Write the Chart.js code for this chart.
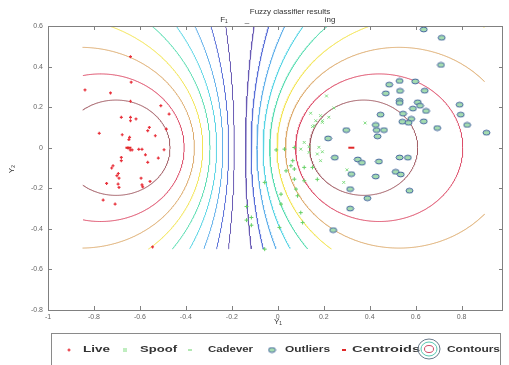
<!DOCTYPE html>
<html>
<head>
<meta charset="utf-8">
<script src="https://cdn.jsdelivr.net/npm/chart.js@4.4.1/dist/chart.umd.min.js"></script>
<style>
  html, body { margin: 0; padding: 0; background: #fff; overflow: hidden; }
</style>
</head>
<body>
<canvas id="fuzzyChart" width="509" height="365"></canvas>
<script>
// Live samples (red)
const liveX = [-0.839, -0.728, -0.638, -0.641, -0.509, -0.473, -0.681, -0.641, -0.641, -0.617,
  -0.559, -0.566, -0.777, -0.677, -0.645, -0.648, -0.533, -0.485, -0.652, -0.642,
  -0.634, -0.605, -0.591, -0.495, -0.576, -0.520, -0.681, -0.681, -0.566, -0.717,
  -0.723, -0.694, -0.700, -0.691, -0.595, -0.556, -0.745, -0.695, -0.591, -0.691,
  -0.588, -0.760, -0.708, -0.545, -0.641];
const liveY = [0.285, 0.270, 0.323, 0.229, 0.207, 0.166, 0.150, 0.150, 0.133, 0.142,
  0.100, 0.084, 0.071, 0.064, 0.051, 0.040, 0.059, 0.092, -0.002, -0.011,
  -0.011, -0.008, -0.008, -0.010, -0.035, -0.051, -0.048, -0.064, -0.072, -0.089,
  -0.100, -0.127, -0.138, -0.150, -0.150, -0.166, -0.176, -0.179, -0.183, -0.196,
  -0.193, -0.258, -0.278, -0.489, 0.449];

// Spoof and cadaver samples (green)
const spoofX = [0.212, 0.244, 0.143, 0.186, 0.222, 0.165, 0.194, 0.151, 0.380, 0.158,
  0.194, 0.115, 0.136, 0.179, 0.100, 0.194, 0.172, 0.186, 0.136, 0.301, 0.287];
const spoofY = [0.255, 0.196, 0.170, 0.158, 0.150, 0.133, 0.133, 0.104, 0.122, 0.109,
  0.125, 0.026, 0.005, 0.002, -0.007, -0.020, -0.031, -0.064, -0.023, -0.109, -0.171];
const cadaverX = [-0.007, 0.029, 0.072, 0.065, 0.036, 0.072, 0.115, 0.151, 0.072, 0.115,
  -0.057, 0.014, 0.079, 0.086, 0.014, 0.100, 0.108, 0.007, -0.057, -0.115,
  -0.136, -0.136, -0.115, 0.172, 0.057];
const cadaverY = [-0.011, -0.007, 0.001, -0.064, -0.114, -0.105, -0.097, -0.097, -0.155, -0.163,
  -0.171, -0.229, -0.204, -0.237, -0.278, -0.320, -0.369, -0.393, -0.500, -0.344,
  -0.290, -0.357, -0.382, -0.156, -0.089];

// Outliers (circled)
const outX = [0.635, 0.713, 0.710, 0.485, 0.530, 0.598, 0.470, 0.532, 0.639, 0.530,
  0.530, 0.609, 0.619, 0.588, 0.645, 0.791, 0.545, 0.447, 0.796, 0.581,
  0.542, 0.569, 0.635, 0.824, 0.426, 0.694, 0.298, 0.430, 0.462, 0.908,
  0.434, 0.219, 0.248, 0.348, 0.366, 0.440, 0.530, 0.566, 0.320, 0.513,
  0.535, 0.426, 0.315, 0.573, 0.390, 0.315, 0.241];
const outY = [0.583, 0.542, 0.408, 0.311, 0.329, 0.327, 0.268, 0.280, 0.281, 0.232,
  0.221, 0.224, 0.207, 0.193, 0.181, 0.212, 0.168, 0.163, 0.163, 0.142,
  0.128, 0.123, 0.130, 0.112, 0.112, 0.097, 0.087, 0.087, 0.087, 0.074,
  0.056, 0.046, -0.049, -0.058, -0.074, -0.068, -0.048, -0.049, -0.130, -0.119,
  -0.132, -0.142, -0.204, -0.212, -0.249, -0.300, -0.406];

// Cluster centroids, membership contour levels and the grid they were drawn on
const centroidX = [-0.65, 0.32];
const centroidY = [0.0, 0.0];
const levels = [0.55, 0.6, 0.65, 0.7, 0.75, 0.8, 0.85, 0.9, 0.95];
const levelColors = ['#6a5cb4', '#5a70d8', '#62b0ea', '#58d4e4', '#58dcb0',
  '#f2e454', '#dcaa6c', '#dc4a66', '#a05a62'];
const gridX = [-0.85, 0.9];
const gridY = [-0.5, 0.6];

const xTicks = [-1, -0.8, -0.6, -0.4, -0.2, 0, 0.2, 0.4, 0.6, 0.8];
const yTicks = [-0.8, -0.6, -0.4, -0.2, 0, 0.2, 0.4, 0.6];

const zip = (xs, ys) => xs.map((x, i) => ({ x: x, y: ys[i] }));

// contour of membership u_i = level (two clusters, m = 2) is an Apollonius circle
function contourArcs(i, level) {
  const j = 1 - i;
  const k2 = 1 / level - 1, k = Math.sqrt(k2);
  const dx = centroidX[j] - centroidX[i], dy = centroidY[j] - centroidY[i];
  const dist = Math.hypot(dx, dy);
  const cx = (centroidX[i] - k2 * centroidX[j]) / (1 - k2);
  const cy = (centroidY[i] - k2 * centroidY[j]) / (1 - k2);
  const r = k * dist / (1 - k2);
  const start = Math.atan2(-dy, -dx);
  const n = Math.ceil(2 * Math.PI * r / 0.003);
  const arcs = [];
  let cur = null;
  for (let s = 0; s <= n; s++) {
    const t = start + 2 * Math.PI * s / n;
    const px = cx + r * Math.cos(t), py = cy + r * Math.sin(t);
    const inside = px >= gridX[0] && px <= gridX[1] && py >= gridY[0] && py <= gridY[1];
    if (inside) {
      if (!cur) { cur = []; arcs.push(cur); }
      cur.push({ x: px, y: py });
    } else {
      cur = null;
    }
  }
  return arcs;
}

// ellipse marker used for outliers
const outlierMark = document.createElement('canvas');
outlierMark.width = 9;
outlierMark.height = 7;
(function () {
  const c = outlierMark.getContext('2d');
  c.beginPath();
  c.ellipse(4.5, 3.5, 3.5, 2.4, 0, 0, 2 * Math.PI);
  c.fillStyle = '#a4dcb0';
  c.fill();
  c.lineWidth = 1;
  c.strokeStyle = '#44649e';
  c.stroke();
})();

const datasets = [
  { label: 'Centroids', data: zip(centroidX, centroidY), pointStyle: 'line', pointRadius: 3,
    borderColor: '#e02828', borderWidth: 2 },
  { label: 'Live', data: zip(liveX, liveY), pointStyle: 'cross', pointRadius: 1.5,
    borderColor: '#e8303a', borderWidth: 1.2 },
  { label: 'Spoof', data: zip(spoofX, spoofY), pointStyle: 'crossRot', pointRadius: 2,
    borderColor: '#80dc80', borderWidth: 1 },
  { label: 'Cadever', data: zip(cadaverX, cadaverY), pointStyle: 'cross', pointRadius: 2,
    borderColor: '#66d066', borderWidth: 1 },
  { label: 'Outliers', data: zip(outX, outY), pointStyle: outlierMark, order: 1 }
];

levels.forEach((lv, li) => {
  [0, 1].forEach(ci => {
    contourArcs(ci, lv).forEach(arc => {
      datasets.push({
        label: 'Contours', data: arc, showLine: true, pointRadius: 0,
        borderColor: levelColors[li], borderWidth: 1, order: 10
      });
    });
  });
});

const legendItems = [
  { label: 'Live', mark: 69, x: 83, w: 27 },
  { label: 'Spoof', mark: 125, x: 140, w: 37 },
  { label: 'Cadever', mark: 190, x: 208, w: 45 },
  { label: 'Outliers', mark: 272, x: 285, w: 45 },
  { label: 'Centroids', mark: 344, x: 352, w: 68 },
  { label: 'Contours', mark: 429, x: 447, w: 53 }
];

function line(ctx, x1, y1, x2, y2) {
  ctx.beginPath();
  ctx.moveTo(x1, y1);
  ctx.lineTo(x2, y2);
  ctx.stroke();
}

const decorations = {
  id: 'decorations',
  afterDraw(chart) {
    const { ctx, chartArea: a, scales: { x, y } } = chart;
    ctx.save();
    ctx.strokeStyle = '#808080';
    ctx.lineWidth = 1;
    ctx.strokeRect(a.left + 0.5, a.top + 0.5, a.right - a.left - 1, a.bottom - a.top);
    xTicks.forEach(v => {
      const px = Math.round(x.getPixelForValue(v)) + 0.5;
      line(ctx, px, a.bottom, px, a.bottom - 4);
      line(ctx, px, a.top, px, a.top + 4);
    });
    yTicks.forEach(v => {
      const py = Math.round(y.getPixelForValue(v)) + 0.5;
      line(ctx, a.left, py, a.left + 4, py);
      line(ctx, a.right, py, a.right - 4, py);
    });

    // title
    ctx.fillStyle = '#333';
    ctx.font = '8px "Liberation Sans", Arial, sans-serif';
    ctx.textAlign = 'center';
    ctx.textBaseline = 'middle';
    ctx.fillText('Fuzzy classifier results', 290, 12);
    ctx.fillText('F\u2081', 224, 20);
    ctx.fillText('_', 247, 20);
    ctx.fillText('ing', 330, 20);

    // axis labels
    ctx.fillText('Y\u2081', 278, 322);
    ctx.save();
    ctx.translate(12, 169);
    ctx.rotate(-Math.PI / 2);
    ctx.fillText('Y\u2082', 0, 0);
    ctx.restore();

    // legend box
    ctx.strokeStyle = '#8a8a8a';
    ctx.strokeRect(51.5, 333.5, 449, 40);
    const ly = 350;
    ctx.font = 'bold 9px "Liberation Sans", Arial, sans-serif';
    ctx.textAlign = 'left';
    ctx.fillStyle = '#333';
    legendItems.forEach(it => {
      const tw = ctx.measureText(it.label).width;
      ctx.save();
      ctx.translate(it.x, ly);
      ctx.scale(it.w / tw, 1);
      ctx.fillText(it.label, 0, 0);
      ctx.restore();
    });
    const m = legendItems.map(it => it.mark);
    ctx.lineWidth = 1.2;
    ctx.strokeStyle = '#e8303a';
    line(ctx, m[0] - 1.5, ly, m[0] + 1.5, ly);
    line(ctx, m[0], ly - 1.5, m[0], ly + 1.5);
    ctx.lineWidth = 1;
    ctx.strokeStyle = '#80dc80';
    line(ctx, m[1] - 2, ly - 1, m[1] + 2, ly - 1);
    line(ctx, m[1] - 2, ly + 1, m[1] + 2, ly + 1);
    ctx.strokeStyle = '#66d066';
    line(ctx, m[2] - 2, ly, m[2] + 2, ly);
    ctx.drawImage(outlierMark, m[3] - 4.5, ly - 3.5);
    ctx.lineWidth = 2;
    ctx.strokeStyle = '#e02828';
    line(ctx, m[4] - 2, ly, m[4] + 2, ly);
    ctx.lineWidth = 1;
    [[10, '#6a7a8a'], [7, '#58c8b0'], [3.5, '#d04a66']].forEach(([r, c]) => {
      ctx.strokeStyle = c;
      ctx.beginPath();
      ctx.ellipse(m[5], ly - 1, r + 1, r, 0, 0, 2 * Math.PI);
      ctx.stroke();
    });
    ctx.restore();
  }
};

new Chart(document.getElementById('fuzzyChart').getContext('2d'), {
  type: 'scatter',
  data: { datasets: datasets },
  options: {
    responsive: false,
    animation: false,
    events: [],
    layout: { padding: { top: 26, right: 1, left: 0, bottom: 0 } },
    plugins: { legend: { display: false }, tooltip: { enabled: false }, title: { display: false } },
    scales: {
      x: {
        type: 'linear', min: -1, max: 0.98,
        afterFit: s => { s.height = 55; },
        afterBuildTicks: s => { s.ticks = xTicks.map(v => ({ value: v })); },
        grid: { display: false, drawTicks: false },
        border: { display: false },
        ticks: { autoSkip: false, maxRotation: 0, padding: 3, color: '#666',
          font: { size: 7, family: '"Liberation Sans", Arial, sans-serif' },
          callback: v => String(v) }
      },
      y: {
        type: 'linear', min: -0.8, max: 0.6,
        afterFit: s => { s.width = 48; },
        afterBuildTicks: s => { s.ticks = yTicks.map(v => ({ value: v })); },
        grid: { display: false, drawTicks: false },
        border: { display: false },
        ticks: { autoSkip: false, padding: 5, color: '#666',
          font: { size: 7, family: '"Liberation Sans", Arial, sans-serif' },
          callback: v => String(v) }
      }
    }
  },
  plugins: [decorations]
});
</script>
</body>
</html>
